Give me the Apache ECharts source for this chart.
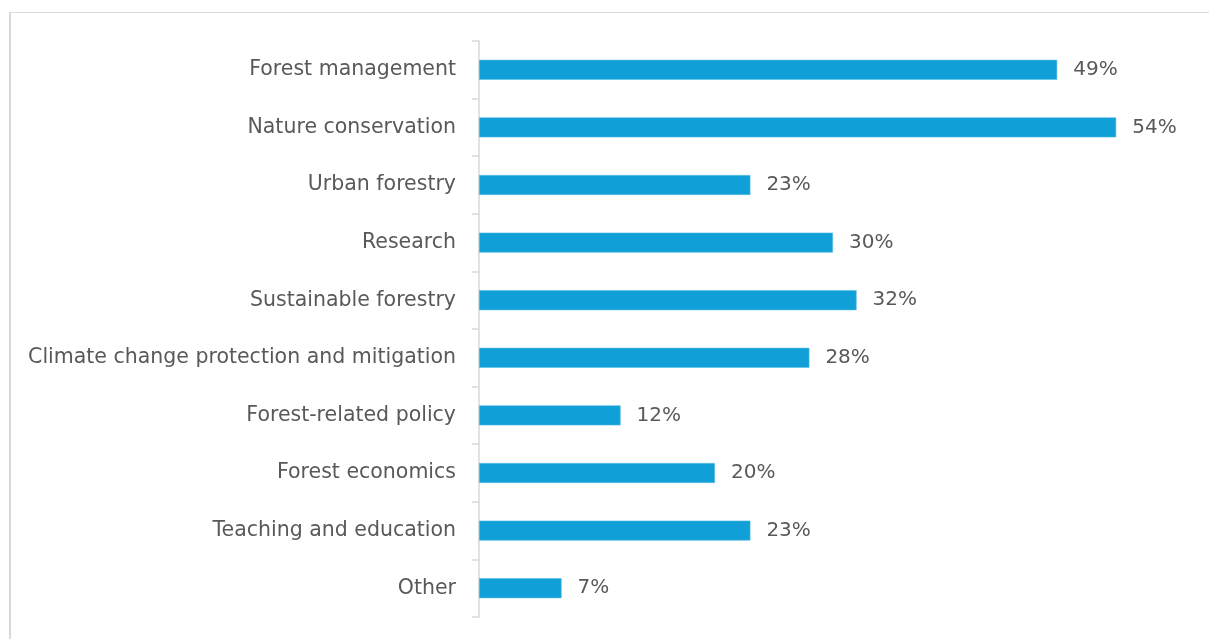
<!DOCTYPE html>
<html>
<head>
<meta charset="utf-8">
<script src="https://cdn.jsdelivr.net/npm/echarts@6/dist/echarts.min.js"></script>
<style>
  html, body { margin: 0; padding: 0; background: #ffffff; }
  #frame { position: absolute; left: 9px; top: 12px; width: 1200px; height: 627px;
           border-left: 2px solid #d9d9d9; border-top: 1px solid #d9d9d9; box-sizing: border-box; }
  #chart { position: absolute; left: 0; top: 0; width: 1209px; height: 639px; }
</style>
</head>
<body>
<div id="frame"></div>
<div id="chart"></div>
<script>
// Fields of activity and share of respondents (%)
const categories = [
  'Forest management',
  'Nature conservation',
  'Urban forestry',
  'Research',
  'Sustainable forestry',
  'Climate change protection and mitigation',
  'Forest-related policy',
  'Forest economics',
  'Teaching and education',
  'Other'
];
const shares = [49, 54, 23, 30, 32, 28, 12, 20, 23, 7];

const FONT = '"DejaVu Sans", "Open Sans", sans-serif';
const TEXT = '#595959';

const chart = echarts.init(document.getElementById('chart'), null, { renderer: 'canvas' });
chart.setOption({
  animation: false,
  backgroundColor: 'transparent',
  grid: { left: 479, right: 22, top: 41, bottom: 22, containLabel: false },
  xAxis: {
    type: 'value',
    min: 0,
    max: 60,
    show: false
  },
  yAxis: {
    type: 'category',
    data: categories,
    inverse: true,
    axisLine: { show: true, lineStyle: { color: '#d9d9d9', width: 1.5 } },
    axisTick: { show: true, length: 7, lineStyle: { color: '#d9d9d9', width: 1.5 } },
    axisLabel: { color: TEXT, fontSize: 20.5, fontFamily: FONT, margin: 23 },
    splitLine: { show: false }
  },
  series: [{
    type: 'bar',
    data: shares,
    barWidth: 20,
    itemStyle: { color: '#109fd6', borderColor: '#5cc0e6', borderWidth: 0.6 },
    label: {
      show: true,
      position: 'right',
      distance: 16,
      color: TEXT,
      fontSize: 20,
      fontFamily: FONT,
      formatter: p => p.value + '%'
    }
  }]
});
</script>
</body>
</html>
